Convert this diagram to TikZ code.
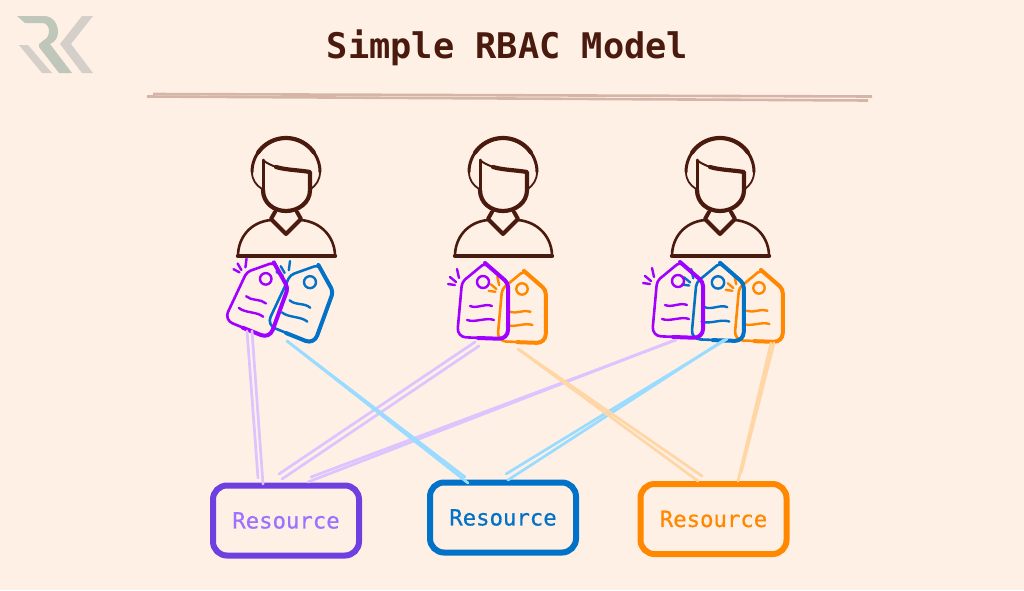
\documentclass[tikz,border=0pt]{standalone}
\usepackage{fontspec}
\setmonofont{DejaVu Sans Mono}
\newfontfamily\resfont[FakeBold=0.7]{DejaVu Sans Mono}
\usetikzlibrary{positioning}

\definecolor{paper}{HTML}{FFF0E5}
\definecolor{ink}{HTML}{4A1A0E}
\definecolor{rule}{HTML}{D6B5A9}
\definecolor{logogreen}{HTML}{BFC6BA}
\definecolor{logogray}{HTML}{D5CFCA}
\definecolor{tagpurple}{HTML}{A000FF}
\definecolor{tagblue}{HTML}{0272C8}
\definecolor{tagorange}{HTML}{FF8800}
\definecolor{respurple}{HTML}{6F3FE0}
\definecolor{textpurple}{HTML}{9D72FF}
\definecolor{linkpurple}{HTML}{DCC4FF}
\definecolor{linkblue}{HTML}{9ADCFF}
\definecolor{linkorange}{HTML}{FFD6A5}

\tikzset{
    resbox/.style={draw=#1, line width=6pt, rounded corners=14pt, minimum width=146pt, minimum height=70pt, inner sep=0pt},
    restext/.style={font=\resfont\fontsize{22.3}{24}\selectfont},
    link/.style={draw=#1, line width=2.7pt, line cap=round}
}

% price tag with three sparks: x, y, angle, scale, colour
\newcommand{\pricetag}[5]{
    \begin{scope}[shift={(#1,#2)}, rotate=#3, scale=#4, color=#5, line cap=round, line join=round]
        \path[draw, line width=2.6pt] [rounded corners=4pt] (-21,-19) -- (2,-38) -- (25,-18) [rounded corners=9pt] -- (25,38) -- (-26,36) [rounded corners=4pt] -- cycle;
        \path[draw, line width=4pt] [rounded corners=4pt] (2,-38) -- (25,-18) [rounded corners=9pt] -- (25,38) -- (-5,37);
        \path[draw, line width=2.4pt] (0,-19) circle (6);
        \path[draw, line width=2.4pt] (-13,5) .. controls (-6,8) and (2,2) .. (9,5);
        \path[draw, line width=2.4pt] (-16,19) .. controls (-8,22) and (3,16) .. (11,19);
        % sparks
        \path[draw, line width=2.4pt] (-26,-32) -- (-24,-23);
        \path[draw, line width=2.4pt] (-33,-24) -- (-27,-19);
        \path[draw, line width=2.4pt] (-35,-17) -- (-28,-16);
    \end{scope}
}

\begin{document}
\begin{tikzpicture}[x=1pt, y=-1pt]

    \path[fill=paper] (0,0) rectangle (1024,590);
    \useasboundingbox (0,0) rectangle (1024,590);

    % logo
    \path[fill=logogreen] (17,16) -- (44,16) .. controls (53,16) and (58,24) .. (58,32) .. controls (58,38) and (55,42) .. (50,44) -- (72,73) -- (59,73) -- (39,47) -- (39,44) -- (44,40) .. controls (48,38) and (49,34) .. (49,31) .. controls (49,26) and (46,23) .. (42,23) -- (25,23) -- cycle;
    \path[fill=logogray] (19,45) -- (28,45) -- (52,73) -- (42,73) -- cycle;
    \path[fill=logogray] (93,16) -- (82,16) -- (60,44) -- (82,73) -- (93,73) -- (71,44) -- cycle;

    % title and the rule below it
    \node[anchor=base, text=ink, font=\ttfamily\bfseries\fontsize{35.3}{38}\selectfont] (title) at (507.5,58) {Simple RBAC Model};
    \coordinate (ruleAa) at (153,94);
    \coordinate (ruleAb) at (872,96.5);
    \coordinate (ruleBa) at (147,96.5);
    \coordinate (ruleBb) at (868,100.5);
    \path[draw, rule, line width=2.6pt] (ruleAa) -- (ruleAb);
    \path[draw, rule, line width=2.6pt] (ruleBa) -- (ruleBb);

    % draw the users
    \foreach \px in {0,217,434} {
        \begin{scope}[shift={(\px,0)}, color=ink, line cap=round, line join=round]
            % hair
            \path[draw, line width=1.8pt] (252,172) .. controls (252,180) and (256,185) .. (262,189);
            \path[draw, line width=1.8pt] (320,172) .. controls (320,180) and (316,185) .. (311,189);
            \path[draw, line width=3pt] plot[domain=0:180, samples=37, smooth] ({286+34*cos(\x)},{172-34*sin(\x)});
            \path[draw, line width=4.2pt] plot[domain=35:145, samples=23, smooth] ({286+34*cos(\x)},{172-34*sin(\x)});
            % face
            \path[draw, line width=3pt] (263,160) -- (263,190);
            \path[draw, line width=4.2pt] (276,167) .. controls (286,170) and (298,170) .. (310,172) -- (310,190) .. controls (310,203) and (298,211) .. (286,211) .. controls (274,211) and (263,203) .. (263,190);
            \path[draw, line width=2pt] (263,160) .. controls (266,163) and (271,165) .. (276,167);
            % collar and shoulders
            \path[draw, line width=4pt] (275,212) -- (271,219) -- (286,234) -- (301,219) -- (297,212);
            \path[draw, line width=2.6pt] (271,220) .. controls (250,222) and (238,238) .. (238,256);
            \path[draw, line width=2.6pt] (301,220) .. controls (322,222) and (335,238) .. (335,256);
            \path[draw, line width=4.4pt] (238,256) -- (335,256);
        \end{scope}
    }

    % draw the tags, back ones first
    \pricetag{303.5}{300}{-20}{1}{tagblue}
    \pricetag{259.5}{296}{-20}{0.96}{tagpurple}
    \pricetag{522}{307}{0}{0.95}{tagorange}
    \pricetag{483}{301}{0}{1}{tagpurple}
    \pricetag{759}{306}{0}{0.95}{tagorange}
    \pricetag{718}{302}{0}{1.03}{tagblue}
    \pricetag{678}{300}{0}{1}{tagpurple}

    % resources
    \node[resbox=respurple, text=textpurple, restext] (resA) at (286,520.5) {Resource};
    \node[resbox=tagblue, text=tagblue, restext] (resB) at (503,517.5) {Resource};
    \node[resbox=tagorange, text=tagorange, restext] (resC) at (713.5,519) {Resource};

    % ends of the links
    \coordinate (pA) at (247,331);
    \coordinate (pAb) at (252,331);
    \coordinate (pB) at (475,342);
    \coordinate (pBb) at (479,346);
    \coordinate (pC) at (676,340);
    \coordinate (pCb) at (672,341);
    \coordinate (bA) at (287,341);
    \coordinate (bB) at (727,339);
    \coordinate (bBb) at (724,340);
    \coordinate (oA) at (518,349);
    \coordinate (oB) at (771,343);
    \coordinate (oBb) at (774,343);
    \coordinate (rAa) at (258,478);
    \coordinate (rAb) at (263,484);
    \coordinate (rAc) at (279,474);
    \coordinate (rAd) at (282,479);
    \coordinate (rAe) at (311,477);
    \coordinate (rAf) at (308,482);
    \coordinate (rBa) at (465,477);
    \coordinate (rBb) at (468,483);
    \coordinate (rBc) at (506,474);
    \coordinate (rBd) at (508,480);
    \coordinate (rCa) at (702,476);
    \coordinate (rCb) at (698,481);
    \coordinate (rCc) at (738,481);
    \coordinate (rCd) at (741,473);

    % draw the links
    \foreach \from/\to/\col in {pA/rAa/linkpurple, pAb/rAb/linkpurple, pB/rAc/linkpurple, pBb/rAd/linkpurple, pC/rAe/linkpurple, pCb/rAf/linkpurple, bA/rBa/linkblue, bA/rBb/linkblue, bB/rBc/linkblue, bBb/rBd/linkblue, oA/rCa/linkorange, oA/rCb/linkorange, oB/rCc/linkorange, oBb/rCd/linkorange} {
        \path[link=\col] (\from) -- (\to);
    }

\end{tikzpicture}
\end{document}
